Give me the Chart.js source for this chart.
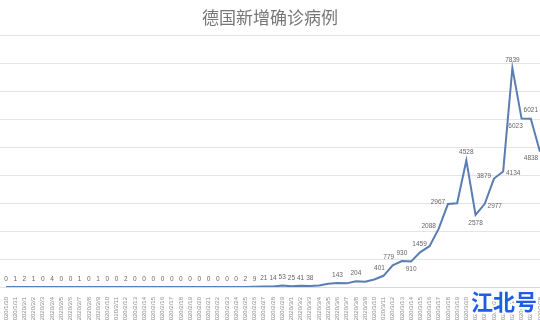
<!DOCTYPE html>
<html>
<head>
<meta charset="utf-8">
<script src="https://cdn.jsdelivr.net/npm/chart.js@4/dist/chart.umd.min.js"></script>
<style>
	html, body { margin: 0; padding: 0; background: #fff; }
	#wrap { width: 540px; height: 320px; position: relative; }
</style>
</head>
<body>
<div id="wrap"><canvas id="de-chart"></canvas></div>
<script>
// 德国新增确诊病例, daily values
const startDate = [2020, 1, 30];
const newCases = [
	0, 1, 2, 1, 0, 4, 0, 0, 1, 0,
	1, 0, 0, 2, 0, 0, 0, 0, 0, 0,
	0, 0, 0, 0, 0, 0, 2, 9, 21, 14,
	53, 25, 41, 38, 50, 117, 143, 130, 204, 188,
	271, 401, 779, 930, 910, 1250, 1459, 2088, 2967, 2993,
	4528, 2578, 2977, 3879, 4134, 7839, 6023, 6021, 4838
];
// where each value label sits (null = no label in the original)
const labelPlace = [
	'a', 'a', 'a', 'a', 'a', 'a', 'a', 'a', 'a', 'a',
	'a', 'a', 'a', 'a', 'a', 'a', 'a', 'a', 'a', 'a',
	'a', 'a', 'a', 'a', 'a', 'a', 'a', 'a', 'a', 'a',
	'a', 'a', 'a', 'a', null, null, 'a', null, 'a', null,
	null, 'al', 'al', 'a', 'b', null, 'l', 'l', 'l', null,
	'a', 'b', 'r', 'l', 'r', 'a', 'bl', 'a', 'bll'
];
const yTicks = { min: 0, max: 9000, step: 1000 };

const dates = newCases.map((v, i) => {
	const d = new Date(startDate[0], startDate[1] - 1, startDate[2] + i);
	return d.getFullYear() + '/' + (d.getMonth() + 1) + '/' + d.getDate();
});

const placeOffset = {
	a: [0, -8],
	b: [0, 8],
	l: [-10, -2],
	r: [10, 2],
	al: [-4, -8],
	bl: [-6, 8],
	bll: [-9, 6]
};

const valueLabels = {
	id: 'valueLabels',
	afterDatasetsDraw(chart) {
		const ctx = chart.ctx,
			meta = chart.getDatasetMeta(0);
		ctx.save();
		ctx.font = '6.5px "Liberation Sans", Arial, sans-serif';
		ctx.fillStyle = '#666666';
		ctx.textAlign = 'center';
		ctx.textBaseline = 'middle';
		meta.data.forEach((pt, i) => {
			const place = labelPlace[i];
			if (!place) return;
			const off = placeOffset[place];
			ctx.fillText(String(newCases[i]), pt.x + off[0], pt.y + off[1]);
		});
		ctx.restore();
	}
};

const watermark = {
	id: 'watermark',
	afterDraw(chart) {
		const ctx = chart.ctx;
		ctx.save();
		ctx.font = 'bold 22px "Noto Sans CJK SC", sans-serif';
		ctx.textAlign = 'right';
		ctx.textBaseline = 'middle';
		ctx.lineWidth = 4;
		ctx.lineJoin = 'round';
		ctx.strokeStyle = '#ffffff';
		ctx.strokeText('江北号', 537, 302);
		ctx.fillStyle = '#1f5ce8';
		ctx.fillText('江北号', 537, 302);
		ctx.restore();
	}
};

new Chart(document.getElementById('de-chart'), {
	type: 'line',
	data: {
		labels: dates,
		datasets: [{
			data: newCases,
			borderColor: '#5a7db3',
			borderWidth: 2,
			pointRadius: 0,
			tension: 0,
			fill: false
		}]
	},
	options: {
		responsive: true,
		maintainAspectRatio: false,
		animation: false,
		layout: { padding: 0 },
		plugins: {
			legend: { display: false },
			tooltip: { enabled: false },
			title: {
				display: true,
				text: '德国新增确诊病例',
				color: '#767676',
				font: { family: '"Noto Sans CJK SC", sans-serif', size: 17, weight: 'normal' },
				padding: { top: 7, bottom: 8 }
			}
		},
		scales: {
			x: {
				grid: { display: false },
				border: { display: true, color: '#d9d9d9' },
				ticks: {
					autoSkip: false,
					maxRotation: 90,
					minRotation: 90,
					padding: 2,
					color: '#8c8c8c',
					font: { family: '"Liberation Sans", Arial, sans-serif', size: 6 }
				},
				afterFit(axis) {
					axis.height = 33;
					axis.paddingLeft = 0;
					axis.paddingRight = 0;
				}
			},
			y: {
				min: yTicks.min,
				max: yTicks.max,
				border: { display: false },
				grid: { color: '#e4e4e4', drawTicks: true, tickLength: 6 },
				ticks: { stepSize: yTicks.step, display: false },
				afterFit(axis) {
					axis.width = 6;
					axis.paddingTop = 0;
					axis.paddingBottom = 0;
				}
			}
		}
	},
	plugins: [valueLabels, watermark]
});
</script>
</body>
</html>
